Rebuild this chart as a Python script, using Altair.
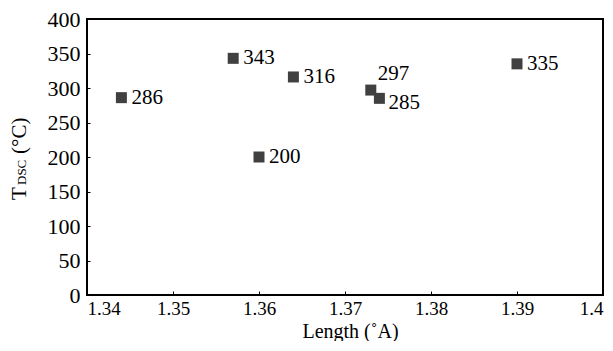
import altair as alt
import pandas as pd

lengths = [1.344, 1.357, 1.364, 1.360, 1.373, 1.374, 1.390]
temps = [286, 343, 316, 200, 297, 285, 335]
labels = ["286", "343", "316", "200", "297", "285", "335"]
x_ticks = [1.34, 1.35, 1.36, 1.37, 1.38, 1.39, 1.40]
y_ticks = [0, 50, 100, 150, 200, 250, 300, 350, 400]

df = pd.DataFrame({"length": lengths, "temp": temps, "label": labels})

FONT = "Liberation Serif"

x = alt.X("length:Q", scale=alt.Scale(domain=[1.34, 1.40], nice=False, zero=False),
          axis=alt.Axis(values=x_ticks, format=".3~g", title="Length (˚A)"))
y = alt.Y("temp:Q", scale=alt.Scale(domain=[0, 400], nice=False),
          axis=alt.Axis(values=y_ticks, title=None))

base = alt.Chart(df)
points = base.mark_square(size=121, color="#404040", opacity=1).encode(x=x, y=y)

normal = base.transform_filter(
    "datum.label != '297' && datum.label != '285'"
).mark_text(align="left", baseline="middle", dx=10, dy=0, fontSize=21,
            color="black").encode(x=x, y=y, text="label:N")
lab297 = base.transform_filter("datum.label == '297'").mark_text(
    align="left", baseline="middle", dx=7, dy=-16, fontSize=21,
    color="black").encode(x=x, y=y, text="label:N")
lab285 = base.transform_filter("datum.label == '285'").mark_text(
    align="left", baseline="middle", dx=9, dy=5, fontSize=21,
    color="black").encode(x=x, y=y, text="label:N")

def ytitle(txt, ypos, size):
    return alt.Chart(pd.DataFrame({"t": [txt]})).mark_text(
        angle=270, align="left", baseline="alphabetic", fontSize=size,
        color="black").encode(x=alt.value(-61), y=alt.value(ypos), text="t:N")

t1 = ytitle("T", 181, 21)
t2 = ytitle("DSC", 166, 13)
t3 = ytitle("(°C)", 135, 21)

chart = alt.layer(points, normal, lab297, lab285, t1, t2, t3).properties(
    width=516, height=276,
    autosize=alt.AutoSizeParams(type="none"),
    padding={"left": 79, "top": 11, "right": 2, "bottom": 46},
).configure(font=FONT).configure_view(
    stroke="black", strokeWidth=2
).configure_text(font=FONT).configure_axis(
    domain=False, grid=False, tickColor="black", tickWidth=1,
    labelColor="black", titleColor="black", labelFont=FONT, titleFont=FONT,
    labelOverlap=False, titleFontWeight="normal",
).configure_axisX(
    offset=-4, tickSize=4, labelPadding=4, labelFontSize=19,
    titleFontSize=20, titleBaseline="alphabetic", titleY=46, titleX=263,
).configure_axisY(
    offset=-3, tickSize=3, labelPadding=7, labelFontSize=22,
)

chart.save("out.html", embed_options={"renderer": "svg", "actions": False})
